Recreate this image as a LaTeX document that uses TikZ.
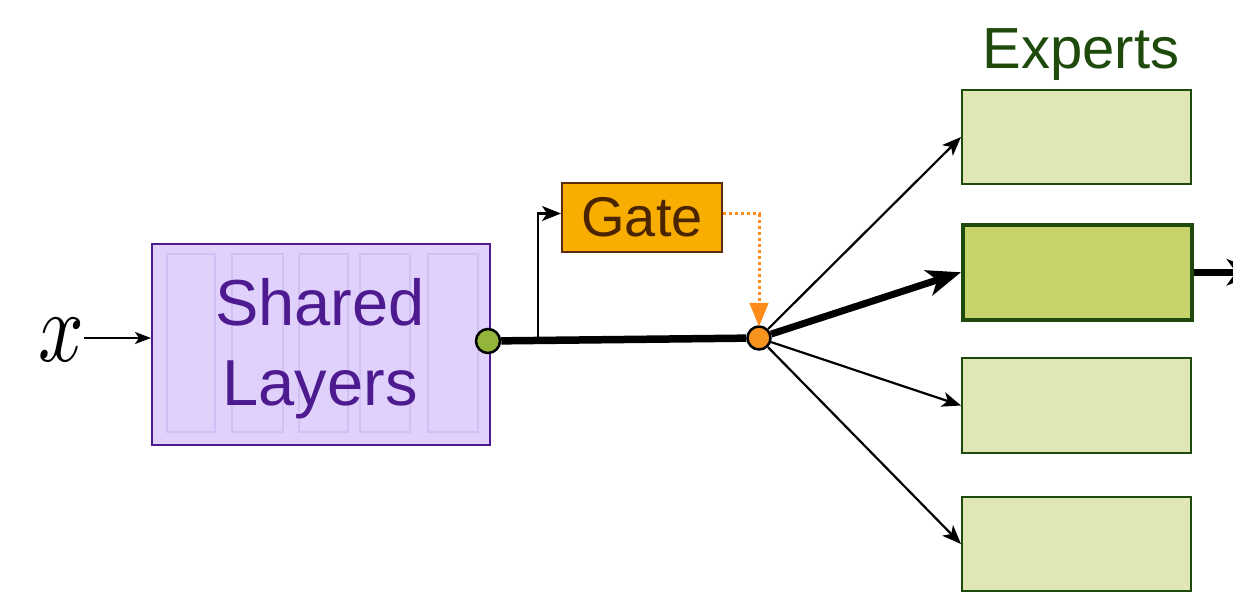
\documentclass[tikz,border=0pt]{standalone}
\usepackage{fontspec}
\setmainfont{Liberation Sans}
\usetikzlibrary{arrows.meta}
\definecolor{slfill}{HTML}{DFD0FC}
\definecolor{slline}{HTML}{4E1A8F}
\definecolor{slcol}{HTML}{D2C0F4}
\definecolor{gatefill}{HTML}{F7AE00}
\definecolor{gateline}{HTML}{5E2A0C}
\definecolor{gatetext}{HTML}{4A2500}
\definecolor{dotor}{HTML}{FF8C1A}
\definecolor{ocfill}{HTML}{F7941D}
\definecolor{gcfill}{HTML}{92B53A}
\definecolor{expfill}{HTML}{E0E6B4}
\definecolor{expsel}{HTML}{C5D36A}
\definecolor{expline}{HTML}{1E4A0C}
\begin{document}
\begin{tikzpicture}[x=1pt,y=-1pt,
  colbox/.style={draw=slcol, line width=2pt, fill=slfill, inner sep=0pt, anchor=north west, minimum width=48pt, minimum height=178pt},
  expbox/.style={draw=expline, line width=2pt, fill=expfill, inner sep=0pt, anchor=north west, minimum width=229pt, minimum height=94pt},
  dotnode/.style={circle, draw=black, line width=2.5pt, inner sep=0pt, minimum size=23pt},
  thinarrow/.style={line width=2.2pt, -{Stealth[length=19pt,width=15pt,inset=5pt]}},
  thickarrow/.style={line width=7pt, -{Stealth[length=34pt,width=26pt,inset=9pt]}}
]
\useasboundingbox (0,0) rectangle (1233,595);

% shared layers
\node[draw=slline, line width=2pt, fill=slfill, inner sep=0pt, anchor=north west,
      minimum width=338pt, minimum height=201pt] (sl) at (151,243) {};
\node[colbox] (c1) at (166,253) {};
\node[colbox, minimum width=51pt] (c2) at (231,253) {};
\node[colbox, minimum width=49pt] (c3) at (298,253) {};
\node[colbox, minimum width=50pt] (c4) at (359,253) {};
\node[colbox, minimum width=50pt] (c5) at (427,253) {};
\node[text=slline, font=\fontsize{65}{80}\selectfont, align=center, inner sep=0pt] (slt) at (320,349) {Shared\\Layers};

% input
\node[inner sep=0pt] (xl) at (61,340) {\scalebox{8}[10]{$x$}};
\draw[line width=2pt, -{Stealth[length=16pt,width=12pt,inset=4pt]}] (xl.east |- 0,338) -- (sl.west |- 0,338);

% gate
\node[draw=gateline, line width=2pt, fill=gatefill, text=gatetext, inner sep=0pt,
      minimum width=160pt, minimum height=69pt, font=\fontsize{56}{60}\selectfont] (gate) at (642,217.5) {Gate};

% circles
\node[dotnode, fill=gcfill, minimum size=24pt] (gc) at (488,341) {};
\node[dotnode, fill=ocfill] (oc) at (759,338) {};
\coordinate (jn) at (538,340);

\draw[line width=7.5pt] (gc) -- (oc);
\draw[thinarrow] (jn) |- ([yshift=4pt]gate.west);
\draw[dotor, line width=3pt, dash pattern=on 3pt off 3pt] ([yshift=4pt]gate.east) -| ([yshift=22pt]oc.north);
\draw[dotor, line width=1pt, fill=dotor] ([yshift=22pt]oc.north) ++(-9,0) -- ++(18,0) -- (oc.north) -- cycle;

% experts
\node[text=expline, font=\fontsize{58}{60}\selectfont, inner sep=0pt] (exl) at (1081,55) {Experts};
\node[expbox] (e1) at (961,89) {};
\node[expbox, fill=expsel, line width=3.5pt, minimum height=95pt] (e2) at (961,223) {};
\node[expbox, minimum height=95pt] (e3) at (961,357) {};
\node[expbox] (e4) at (961,496) {};

\draw[thinarrow] (oc) -- (e1.west);
\draw[thickarrow] (oc) -- (e2.west);
\draw[thinarrow] (oc) -- (e3.west);
\draw[thinarrow] (oc) -- (e4.west);

\coordinate (out) at (1261,0);
\draw[thickarrow] (e2.east) -- (e2.east -| out);
\end{tikzpicture}
\end{document}
